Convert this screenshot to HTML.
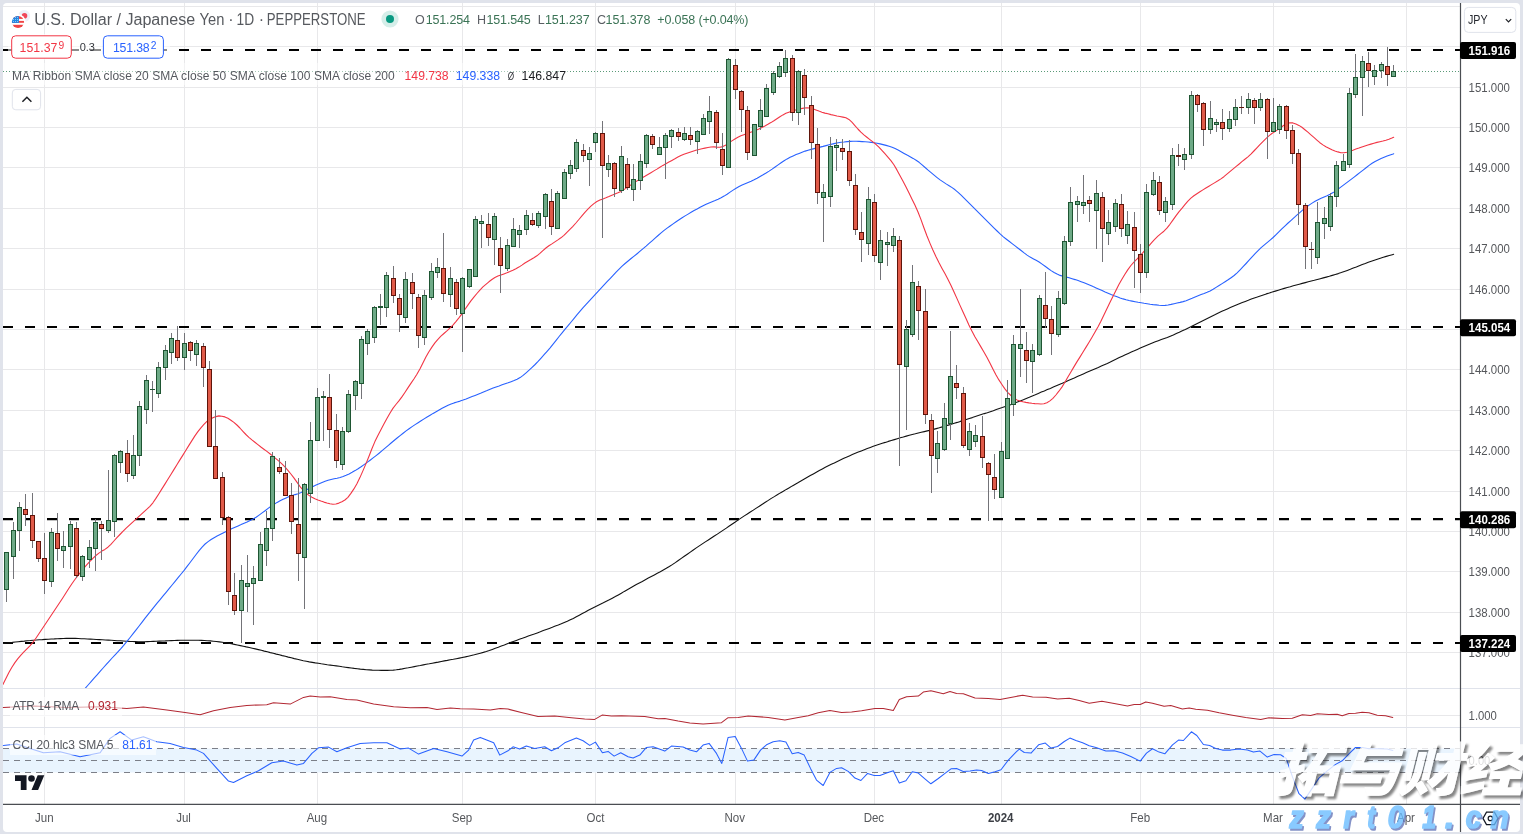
<!DOCTYPE html>
<html><head><meta charset="utf-8"><title>USDJPY chart</title>
<style>
html,body{margin:0;padding:0;background:#e0e3eb;overflow:hidden}
svg{display:block}
text{font-family:"Liberation Sans","Noto Sans CJK SC",sans-serif}
</style></head><body>
<svg width="1523" height="834" viewBox="0 0 1523 834">
<rect width="1523" height="834" fill="#e0e3eb"/>
<rect x="3" y="3" width="1517" height="829" rx="4" ry="4" fill="#fff"/>
<path d="M3,6.5H1460.5M3,46.5H1460.5M3,87.5H1460.5M3,127.5H1460.5M3,167.5H1460.5M3,208.5H1460.5M3,248.5H1460.5M3,289.5H1460.5M3,329.5H1460.5M3,369.5H1460.5M3,410.5H1460.5M3,450.5H1460.5M3,491.5H1460.5M3,531.5H1460.5M3,571.5H1460.5M3,612.5H1460.5M3,652.5H1460.5M3,715.5H1460.5M44.5,3V804.3M184.5,3V804.3M317.5,3V804.3M462.5,3V804.3M595.5,3V804.3M735.5,3V804.3M874.5,3V804.3M1001.5,3V804.3M1140.5,3V804.3M1273.5,3V804.3M1406.5,3V804.3" stroke="#e8e8ea" stroke-width="1" fill="none"/>
<path d="M3,688.5H1520M3,727.5H1520" stroke="#e0e3eb" stroke-width="1.2" fill="none"/>
<rect x="3" y="748.5" width="1457.5" height="24" fill="#e9f4fe"/>
<path d="M3,748.5H1460.5M3,760.5H1460.5M3,772.5H1460.5" stroke="#7c7f88" stroke-width="1" stroke-dasharray="6 5" fill="none"/>
<path d="M3,71.5H1460.5" stroke="#5a9a78" stroke-width="1" stroke-dasharray="1 2" fill="none"/>
<defs><clipPath id="mp"><rect x="3" y="3" width="1457.5" height="685"/></clipPath></defs>
<path d="M3,50H1460.5" stroke="#000" stroke-width="2.2" stroke-dasharray="10 12" fill="none"/>
<path d="M3,327H1460.5" stroke="#000" stroke-width="2.2" stroke-dasharray="10 12" fill="none"/>
<path d="M3,519.2H1460.5" stroke="#000" stroke-width="2.2" stroke-dasharray="10 12" fill="none"/>
<path d="M3,643H1460.5" stroke="#000" stroke-width="2.2" stroke-dasharray="10 12" fill="none"/>
<g clip-path="url(#mp)">
<polyline points="3.3,643.4 6.3,643.0 9.3,642.7 12.3,642.4 15.3,642.0 18.3,641.7 21.3,641.4 24.3,641.1 27.3,640.7 30.3,640.5 33.3,640.2 36.3,640.0 39.3,639.7 42.3,639.6 45.3,639.4 48.3,639.2 51.3,639.0 54.3,638.9 57.3,638.7 60.3,638.6 63.3,638.5 66.3,638.4 69.3,638.4 72.3,638.4 75.3,638.4 78.3,638.5 81.3,638.7 84.3,638.8 87.3,639.0 90.3,639.1 93.3,639.3 96.3,639.5 99.3,639.6 102.3,639.8 105.3,640.0 108.3,640.1 111.3,640.3 114.3,640.5 117.3,640.7 120.3,640.8 123.3,641.0 126.3,641.2 129.3,641.4 132.3,641.5 135.3,641.6 138.3,641.7 141.3,641.7 144.3,641.7 147.3,641.6 150.3,641.5 153.3,641.4 156.3,641.3 159.3,641.1 162.3,641.0 165.3,640.9 168.3,640.7 171.3,640.6 174.3,640.5 177.3,640.4 180.3,640.3 183.3,640.2 186.3,640.2 189.3,640.2 192.3,640.2 195.3,640.2 198.3,640.3 201.3,640.4 204.3,640.5 207.3,640.7 210.3,640.9 213.3,641.2 216.3,641.5 219.3,641.9 222.3,642.3 225.3,642.7 228.3,643.2 231.3,643.8 234.3,644.4 237.3,645.0 240.3,645.6 243.3,646.2 246.3,646.9 249.3,647.5 252.3,648.2 255.3,648.9 258.3,649.6 261.3,650.3 264.3,651.1 267.3,651.8 270.3,652.6 273.3,653.3 276.3,654.1 279.3,654.8 282.3,655.6 285.3,656.3 288.3,657.1 291.3,657.8 294.3,658.6 297.3,659.3 300.3,660.0 303.3,660.7 306.3,661.3 309.3,661.9 312.3,662.4 315.3,662.9 318.3,663.3 321.3,663.8 324.3,664.2 327.3,664.7 330.3,665.1 333.3,665.5 336.3,665.9 339.3,666.3 342.3,666.8 345.3,667.2 348.3,667.6 351.3,668.0 354.3,668.4 357.3,668.7 360.3,669.1 363.3,669.4 366.3,669.7 369.3,669.9 372.3,670.1 375.3,670.2 378.3,670.3 381.3,670.4 384.3,670.4 387.3,670.4 390.3,670.3 393.3,670.1 396.3,669.8 399.3,669.4 402.3,668.9 405.3,668.3 408.3,667.8 411.3,667.2 414.3,666.6 417.3,666.0 420.3,665.5 423.3,664.9 426.3,664.3 429.3,663.8 432.3,663.2 435.3,662.6 438.3,662.1 441.3,661.5 444.3,660.9 447.3,660.4 450.3,659.8 453.3,659.3 456.3,658.7 459.3,658.1 462.3,657.5 465.3,656.9 468.3,656.2 471.3,655.5 474.3,654.8 477.3,654.0 480.3,653.2 483.3,652.4 486.3,651.5 489.3,650.5 492.3,649.4 495.3,648.3 498.3,647.2 501.3,646.0 504.3,644.9 507.3,643.7 510.3,642.6 513.3,641.5 516.3,640.4 519.3,639.3 522.3,638.3 525.3,637.2 528.3,636.1 531.3,635.0 534.3,634.0 537.3,632.9 540.3,631.8 543.3,630.6 546.3,629.5 549.3,628.4 552.3,627.3 555.3,626.1 558.3,625.0 561.3,623.8 564.3,622.5 567.3,621.2 570.3,619.8 573.3,618.4 576.3,616.8 579.3,615.2 582.3,613.6 585.3,612.0 588.3,610.3 591.3,608.7 594.3,607.2 597.3,605.7 600.3,604.2 603.3,602.8 606.3,601.3 609.3,599.8 612.3,598.2 615.3,596.6 618.3,594.9 621.3,593.2 624.3,591.4 627.3,589.7 630.3,588.0 633.3,586.3 636.3,584.6 639.3,583.0 642.3,581.4 645.3,579.7 648.3,578.1 651.3,576.5 654.3,574.9 657.3,573.3 660.3,571.7 663.3,570.0 666.3,568.3 669.3,566.5 672.3,564.6 675.3,562.6 678.3,560.5 681.3,558.4 684.3,556.3 687.3,554.2 690.3,552.1 693.3,550.0 696.3,547.9 699.3,545.9 702.3,543.9 705.3,541.9 708.3,540.0 711.3,538.0 714.3,536.0 717.3,534.1 720.3,532.1 723.3,530.1 726.3,528.1 729.3,526.0 732.3,524.0 735.3,522.0 738.3,519.9 741.3,517.9 744.3,515.9 747.3,514.0 750.3,512.0 753.3,510.1 756.3,508.1 759.3,506.2 762.3,504.2 765.3,502.3 768.3,500.4 771.3,498.4 774.3,496.6 777.3,494.7 780.3,492.9 783.3,491.2 786.3,489.4 789.3,487.7 792.3,485.9 795.3,484.2 798.3,482.5 801.3,480.7 804.3,479.0 807.3,477.3 810.3,475.6 813.3,473.9 816.3,472.2 819.3,470.5 822.3,468.9 825.3,467.3 828.3,465.8 831.3,464.3 834.3,462.9 837.3,461.4 840.3,460.0 843.3,458.6 846.3,457.3 849.3,455.9 852.3,454.6 855.3,453.3 858.3,452.1 861.3,450.9 864.3,449.7 867.3,448.5 870.3,447.4 873.3,446.3 876.3,445.3 879.3,444.3 882.3,443.3 885.3,442.4 888.3,441.4 891.3,440.5 894.3,439.6 897.3,438.7 900.3,437.8 903.3,437.0 906.3,436.1 909.3,435.3 912.3,434.5 915.3,433.8 918.3,433.0 921.3,432.3 924.3,431.6 927.3,430.9 930.3,430.2 933.3,429.4 936.3,428.6 939.3,427.8 942.3,426.9 945.3,426.0 948.3,425.1 951.3,424.2 954.3,423.3 957.3,422.4 960.3,421.4 963.3,420.5 966.3,419.5 969.3,418.5 972.3,417.6 975.3,416.6 978.3,415.6 981.3,414.6 984.3,413.6 987.3,412.7 990.3,411.7 993.3,410.7 996.3,409.6 999.3,408.6 1002.3,407.6 1005.3,406.5 1008.3,405.5 1011.3,404.4 1014.3,403.2 1017.3,402.1 1020.3,400.9 1023.3,399.7 1026.3,398.4 1029.3,397.2 1032.3,395.9 1035.3,394.7 1038.3,393.4 1041.3,392.1 1044.3,390.9 1047.3,389.6 1050.3,388.4 1053.3,387.1 1056.3,385.8 1059.3,384.5 1062.3,383.3 1065.3,381.9 1068.3,380.6 1071.3,379.3 1074.3,378.0 1077.3,376.6 1080.3,375.3 1083.3,373.9 1086.3,372.6 1089.3,371.3 1092.3,370.0 1095.3,368.7 1098.3,367.4 1101.3,366.0 1104.3,364.7 1107.3,363.4 1110.3,362.0 1113.3,360.5 1116.3,359.1 1119.3,357.6 1122.3,356.2 1125.3,354.8 1128.3,353.4 1131.3,352.1 1134.3,350.8 1137.3,349.4 1140.3,348.1 1143.3,346.8 1146.3,345.5 1149.3,344.2 1152.3,343.0 1155.3,341.8 1158.3,340.7 1161.3,339.6 1164.3,338.5 1167.3,337.4 1170.3,336.2 1173.3,335.0 1176.3,333.6 1179.3,332.3 1182.3,330.8 1185.3,329.4 1188.3,327.9 1191.3,326.4 1194.3,324.9 1197.3,323.4 1200.3,321.9 1203.3,320.4 1206.3,318.9 1209.3,317.4 1212.3,315.9 1215.3,314.5 1218.3,313.0 1221.3,311.6 1224.3,310.3 1227.3,308.9 1230.3,307.6 1233.3,306.3 1236.3,305.0 1239.3,303.8 1242.3,302.6 1245.3,301.4 1248.3,300.3 1251.3,299.1 1254.3,298.0 1257.3,297.0 1260.3,295.9 1263.3,294.9 1266.3,293.9 1269.3,293.0 1272.3,292.0 1275.3,291.1 1278.3,290.2 1281.3,289.3 1284.3,288.4 1287.3,287.5 1290.3,286.7 1293.3,285.8 1296.3,285.0 1299.3,284.2 1302.3,283.4 1305.3,282.6 1308.3,281.8 1311.3,281.0 1314.3,280.3 1317.3,279.5 1320.3,278.7 1323.3,277.9 1326.3,277.1 1329.3,276.3 1332.3,275.4 1335.3,274.5 1338.3,273.6 1341.3,272.6 1344.3,271.5 1347.3,270.4 1350.3,269.3 1353.3,268.1 1356.3,267.0 1359.3,265.8 1362.3,264.6 1365.3,263.5 1368.3,262.3 1371.3,261.2 1374.3,260.2 1377.3,259.2 1380.3,258.2 1383.3,257.3 1386.3,256.4 1389.3,255.5 1392.3,254.7 1393.7,254.3" fill="none" stroke="#111" stroke-width="1.1" stroke-linejoin="round" stroke-linecap="round" />
<polyline points="85.1,688.4 88.1,685.0 91.1,681.6 94.1,678.2 97.1,674.8 100.1,671.4 103.1,668.0 106.1,664.6 109.1,661.3 112.1,658.0 115.1,654.8 118.1,651.6 121.1,648.3 124.1,644.8 127.1,641.2 130.1,637.5 133.1,633.7 136.1,629.9 139.1,626.0 142.1,622.1 145.1,618.2 148.1,614.4 151.1,610.6 154.1,606.9 157.1,603.2 160.1,599.6 163.1,595.9 166.1,592.3 169.1,588.7 172.1,585.0 175.1,581.4 178.1,577.7 181.1,574.0 184.1,570.3 187.1,566.4 190.1,562.5 193.1,558.5 196.1,554.5 199.1,550.6 202.1,547.1 205.1,544.0 208.1,541.6 211.1,539.5 214.1,537.7 217.1,536.1 220.1,534.6 223.1,533.1 226.1,531.6 229.1,530.1 232.1,528.6 235.1,527.2 238.1,525.9 241.1,524.6 244.1,523.2 247.1,521.9 250.1,520.5 253.1,519.0 256.1,517.2 259.1,515.1 262.1,512.9 265.1,510.7 268.1,508.4 271.1,506.2 274.1,504.2 277.1,502.4 280.1,500.8 283.1,499.3 286.1,497.9 289.1,496.6 292.1,495.6 295.1,494.6 298.1,493.7 301.1,492.5 304.1,491.1 307.1,489.6 310.1,488.0 313.1,486.5 316.1,485.1 319.1,483.8 322.1,482.5 325.1,481.3 328.1,480.3 331.1,479.5 334.1,478.8 337.1,478.2 340.1,477.5 343.1,476.5 346.1,475.3 349.1,473.9 352.1,472.3 355.1,470.6 358.1,468.7 361.1,466.7 364.1,464.6 367.1,462.4 370.1,460.2 373.1,457.9 376.1,455.6 379.1,453.2 382.1,450.7 385.1,448.2 388.1,445.6 391.1,443.0 394.1,440.5 397.1,438.0 400.1,435.6 403.1,433.3 406.1,430.9 409.1,428.7 412.1,426.6 415.1,424.6 418.1,422.7 421.1,420.8 424.1,418.9 427.1,417.0 430.1,415.2 433.1,413.4 436.1,411.7 439.1,410.0 442.1,408.3 445.1,406.7 448.1,405.2 451.1,403.9 454.1,402.9 457.1,402.0 460.1,401.1 463.1,400.1 466.1,399.0 469.1,397.8 472.1,396.6 475.1,395.4 478.1,394.2 481.1,393.0 484.1,391.7 487.1,390.5 490.1,389.2 493.1,388.0 496.1,386.9 499.1,385.9 502.1,384.8 505.1,383.8 508.1,382.8 511.1,381.7 514.1,380.6 517.1,379.3 520.1,377.6 523.1,375.4 526.1,372.8 529.1,370.2 532.1,367.4 535.1,364.5 538.1,361.4 541.1,358.1 544.1,354.7 547.1,351.3 550.1,347.8 553.1,344.1 556.1,340.3 559.1,336.5 562.1,332.8 565.1,329.2 568.1,325.6 571.1,322.0 574.1,318.4 577.1,314.7 580.1,311.2 583.1,307.7 586.1,304.4 589.1,301.1 592.1,297.9 595.1,294.6 598.1,291.4 601.1,288.2 604.1,284.9 607.1,281.7 610.1,278.6 613.1,275.4 616.1,272.2 619.1,269.1 622.1,266.2 625.1,263.5 628.1,261.0 631.1,258.5 634.1,256.1 637.1,253.7 640.1,251.2 643.1,248.6 646.1,246.1 649.1,243.4 652.1,240.8 655.1,238.2 658.1,235.5 661.1,232.9 664.1,230.4 667.1,228.1 670.1,226.0 673.1,223.9 676.1,221.8 679.1,219.8 682.1,217.8 685.1,215.9 688.1,214.1 691.1,212.3 694.1,210.6 697.1,209.0 700.1,207.3 703.1,205.7 706.1,204.3 709.1,202.9 712.1,201.7 715.1,200.5 718.1,199.2 721.1,197.8 724.1,196.1 727.1,194.2 730.1,192.1 733.1,190.1 736.1,188.2 739.1,186.6 742.1,185.1 745.1,183.8 748.1,182.5 751.1,181.2 754.1,179.8 757.1,178.2 760.1,176.5 763.1,174.8 766.1,173.0 769.1,171.1 772.1,169.1 775.1,167.0 778.1,164.9 781.1,162.8 784.1,160.7 787.1,158.9 790.1,157.3 793.1,155.9 796.1,154.6 799.1,153.4 802.1,152.2 805.1,151.1 808.1,150.2 811.1,149.4 814.1,148.6 817.1,147.9 820.1,147.1 823.1,146.4 826.1,145.6 829.1,144.8 832.1,144.1 835.1,143.4 838.1,142.8 841.1,142.3 844.1,142.0 847.1,141.6 850.1,141.4 853.1,141.3 856.1,141.3 859.1,141.4 862.1,141.6 865.1,141.8 868.1,142.0 871.1,142.4 874.1,142.8 877.1,143.3 880.1,143.9 883.1,144.6 886.1,145.4 889.1,146.3 892.1,147.3 895.1,148.6 898.1,150.1 901.1,151.7 904.1,153.4 907.1,155.1 910.1,156.7 913.1,158.4 916.1,160.2 919.1,162.3 922.1,164.8 925.1,167.5 928.1,170.2 931.1,172.7 934.1,175.2 937.1,177.6 940.1,179.9 943.1,181.9 946.1,183.9 949.1,185.7 952.1,187.6 955.1,189.8 958.1,192.3 961.1,195.1 964.1,198.1 967.1,201.1 970.1,204.1 973.1,207.1 976.1,210.1 979.1,213.1 982.1,216.1 985.1,219.1 988.1,222.1 991.1,225.1 994.1,228.1 997.1,231.0 1000.1,233.9 1003.1,236.6 1006.1,239.0 1009.1,241.3 1012.1,243.6 1015.1,245.9 1018.1,248.2 1021.1,250.5 1024.1,252.9 1027.1,255.1 1030.1,257.1 1033.1,258.7 1036.1,260.3 1039.1,262.0 1042.1,264.1 1045.1,266.3 1048.1,268.5 1051.1,270.6 1054.1,272.5 1057.1,274.1 1060.1,275.4 1063.1,276.3 1066.1,277.0 1069.1,277.8 1072.1,278.7 1075.1,279.6 1078.1,280.6 1081.1,281.7 1084.1,282.8 1087.1,284.0 1090.1,285.2 1093.1,286.6 1096.1,287.9 1099.1,289.2 1102.1,290.5 1105.1,291.9 1108.1,293.2 1111.1,294.5 1114.1,295.7 1117.1,296.8 1120.1,297.9 1123.1,298.9 1126.1,299.8 1129.1,300.5 1132.1,301.1 1135.1,301.7 1138.1,302.3 1141.1,302.8 1144.1,303.3 1147.1,303.7 1150.1,304.2 1153.1,304.6 1156.1,304.9 1159.1,305.3 1162.1,305.5 1165.1,305.4 1168.1,305.0 1171.1,304.4 1174.1,303.7 1177.1,303.0 1180.1,302.4 1183.1,301.6 1186.1,300.7 1189.1,299.5 1192.1,298.3 1195.1,297.0 1198.1,295.8 1201.1,294.6 1204.1,293.5 1207.1,292.3 1210.1,290.9 1213.1,289.3 1216.1,287.4 1219.1,285.5 1222.1,283.6 1225.1,281.7 1228.1,279.8 1231.1,277.7 1234.1,275.5 1237.1,272.8 1240.1,269.8 1243.1,266.7 1246.1,263.5 1249.1,260.2 1252.1,256.9 1255.1,253.7 1258.1,250.6 1261.1,247.7 1264.1,245.1 1267.1,242.6 1270.1,240.1 1273.1,237.5 1276.1,234.6 1279.1,231.7 1282.1,228.7 1285.1,225.8 1288.1,223.0 1291.1,220.3 1294.1,217.6 1297.1,214.9 1300.1,212.3 1303.1,209.7 1306.1,207.3 1309.1,205.1 1312.1,203.1 1315.1,201.3 1318.1,199.7 1321.1,198.3 1324.1,197.0 1327.1,195.7 1330.1,194.3 1333.1,192.6 1336.1,190.6 1339.1,188.4 1342.1,186.1 1345.1,183.9 1348.1,181.6 1351.1,179.4 1354.1,177.1 1357.1,174.8 1360.1,172.4 1363.1,170.1 1366.1,167.7 1369.1,165.4 1372.1,163.3 1375.1,161.5 1378.1,160.0 1381.1,158.6 1384.1,157.3 1387.1,156.1 1390.1,155.0 1393.1,154.0 1393.7,153.7" fill="none" stroke="#2962ff" stroke-width="1.1" stroke-linejoin="round" stroke-linecap="round" />
<polyline points="2.9,684.4 5.9,678.4 8.9,672.6 11.9,667.2 14.9,662.6 17.9,658.6 20.9,655.1 23.9,651.9 26.9,648.9 29.9,645.8 32.9,642.4 35.9,638.2 38.9,633.8 41.9,629.3 44.9,624.8 47.9,620.3 50.9,615.8 53.9,611.3 56.9,606.8 59.9,602.3 62.9,597.7 65.9,593.0 68.9,588.2 71.9,583.7 74.9,579.5 77.9,575.6 80.9,571.8 83.9,568.2 86.9,564.7 89.9,561.3 92.9,558.3 95.9,555.5 98.9,553.1 101.9,551.1 104.9,549.4 107.9,547.2 110.9,544.3 113.9,541.0 116.9,537.7 119.9,534.5 122.9,531.3 125.9,528.4 128.9,525.6 131.9,522.8 134.9,520.1 137.9,517.4 140.9,514.7 143.9,511.9 146.9,509.2 149.9,506.3 152.9,502.8 155.9,498.4 158.9,493.7 161.9,488.9 164.9,484.1 167.9,479.3 170.9,474.5 173.9,469.6 176.9,464.8 179.9,459.9 182.9,455.1 185.9,450.2 188.9,445.4 191.9,440.6 194.9,435.9 197.9,431.6 200.9,427.8 203.9,424.4 206.9,421.4 209.9,419.3 212.9,417.8 215.9,416.6 218.9,415.9 221.9,416.2 224.9,416.9 227.9,418.3 230.9,420.2 233.9,422.4 236.9,425.0 239.9,428.0 242.9,431.3 245.9,434.5 248.9,437.3 251.9,439.9 254.9,442.3 257.9,444.6 260.9,447.0 263.9,449.2 266.9,451.4 269.9,453.7 272.9,456.1 275.9,458.6 278.9,461.1 281.9,463.8 284.9,466.8 287.9,470.3 290.9,474.0 293.9,477.9 296.9,482.1 299.9,486.4 302.9,490.0 305.9,493.0 308.9,495.4 311.9,497.3 314.9,498.8 317.9,500.0 320.9,501.1 323.9,502.1 326.9,503.0 329.9,503.8 332.9,504.3 335.9,504.0 338.9,503.1 341.9,501.7 344.9,500.0 347.9,497.3 350.9,493.4 353.9,488.9 356.9,483.7 359.9,477.6 362.9,470.9 365.9,463.9 368.9,456.5 371.9,448.8 374.9,441.6 377.9,435.4 380.9,429.7 383.9,424.1 386.9,418.5 389.9,413.2 392.9,408.4 395.9,404.5 398.9,400.9 401.9,396.9 404.9,392.5 407.9,387.9 410.9,383.4 413.9,379.0 416.9,374.3 419.9,369.0 422.9,363.0 425.9,357.0 428.9,351.7 431.9,347.1 434.9,342.9 437.9,339.3 440.9,336.2 443.9,333.5 446.9,330.9 449.9,328.1 452.9,325.1 455.9,321.6 458.9,317.8 461.9,313.8 464.9,309.5 467.9,305.1 470.9,300.9 473.9,297.2 476.9,293.5 479.9,290.1 482.9,286.9 485.9,284.3 488.9,281.8 491.9,279.5 494.9,277.5 497.9,276.1 500.9,275.0 503.9,273.9 506.9,272.8 509.9,271.6 512.9,270.3 515.9,268.8 518.9,267.1 521.9,265.1 524.9,263.0 527.9,261.2 530.9,259.5 533.9,257.7 536.9,255.8 539.9,253.3 542.9,250.6 545.9,248.0 548.9,245.8 551.9,243.9 554.9,241.9 557.9,239.9 560.9,237.8 563.9,235.3 566.9,232.4 569.9,229.4 572.9,226.3 575.9,223.0 578.9,219.5 581.9,215.9 584.9,212.4 587.9,209.2 590.9,206.2 593.9,203.6 596.9,201.5 599.9,200.1 602.9,198.9 605.9,197.8 608.9,196.6 611.9,195.3 614.9,194.1 617.9,192.8 620.9,191.4 623.9,189.6 626.9,187.6 629.9,185.6 632.9,183.5 635.9,181.6 638.9,179.8 641.9,178.0 644.9,176.3 647.9,174.5 650.9,172.7 653.9,170.9 656.9,169.1 659.9,167.2 662.9,165.4 665.9,163.7 668.9,162.0 671.9,160.4 674.9,158.8 677.9,157.1 680.9,155.6 683.9,154.3 686.9,153.2 689.9,152.2 692.9,151.2 695.9,150.3 698.9,149.5 701.9,148.8 704.9,148.1 707.9,147.5 710.9,147.0 713.9,146.9 716.9,147.1 719.9,147.2 722.9,146.6 725.9,145.0 728.9,142.9 731.9,140.9 734.9,139.0 737.9,137.3 740.9,135.8 743.9,134.7 746.9,133.6 749.9,132.6 752.9,131.6 755.9,130.3 758.9,128.9 761.9,127.4 764.9,125.9 767.9,124.3 770.9,122.6 773.9,120.7 776.9,118.7 779.9,116.7 782.9,114.9 785.9,113.3 788.9,112.2 791.9,111.1 794.9,110.2 797.9,109.3 800.9,108.6 803.9,108.1 806.9,107.8 809.9,108.0 812.9,108.8 815.9,109.9 818.9,111.1 821.9,112.2 824.9,113.1 827.9,113.8 830.9,114.6 833.9,115.3 836.9,116.0 839.9,116.5 842.9,117.1 845.9,117.8 848.9,119.4 851.9,122.2 854.9,125.6 857.9,129.0 860.9,132.2 863.9,134.9 866.9,137.3 869.9,139.6 872.9,141.9 875.9,144.3 878.9,147.2 881.9,150.4 884.9,153.7 887.9,157.1 890.9,160.6 893.9,164.8 896.9,169.9 899.9,175.4 902.9,181.0 905.9,186.8 908.9,192.8 911.9,198.9 914.9,205.1 917.9,211.7 920.9,219.4 923.9,227.7 926.9,235.8 929.9,243.1 932.9,250.0 935.9,256.5 938.9,262.6 941.9,268.2 944.9,273.6 947.9,279.2 950.9,285.2 953.9,291.7 956.9,298.4 959.9,305.1 962.9,311.7 965.9,318.3 968.9,324.9 971.9,331.1 974.9,336.7 977.9,341.8 980.9,346.9 983.9,352.0 986.9,357.3 989.9,363.0 992.9,368.9 995.9,374.7 998.9,379.9 1001.9,384.5 1004.9,388.9 1007.9,392.6 1010.9,395.5 1013.9,397.9 1016.9,399.9 1019.9,401.1 1022.9,401.8 1025.9,402.4 1028.9,402.9 1031.9,403.3 1034.9,403.6 1037.9,403.8 1040.9,404.0 1043.9,403.8 1046.9,402.7 1049.9,400.9 1052.9,398.3 1055.9,395.0 1058.9,391.2 1061.9,387.1 1064.9,382.3 1067.9,377.1 1070.9,371.9 1073.9,366.9 1076.9,361.9 1079.9,357.1 1082.9,352.3 1085.9,347.4 1088.9,342.5 1091.9,337.5 1094.9,332.3 1097.9,327.0 1100.9,321.3 1103.9,315.1 1106.9,308.8 1109.9,302.5 1112.9,296.4 1115.9,290.4 1118.9,284.6 1121.9,279.3 1124.9,274.3 1127.9,269.6 1130.9,265.5 1133.9,262.1 1136.9,259.1 1139.9,255.9 1142.9,252.6 1145.9,249.2 1148.9,245.8 1151.9,242.4 1154.9,239.1 1157.9,236.1 1160.9,233.6 1163.9,231.2 1166.9,228.2 1169.9,224.3 1172.9,220.1 1175.9,215.9 1178.9,211.9 1181.9,208.3 1184.9,204.7 1187.9,201.2 1190.9,198.1 1193.9,195.7 1196.9,193.7 1199.9,191.8 1202.9,189.9 1205.9,188.0 1208.9,186.2 1211.9,184.4 1214.9,182.6 1217.9,180.8 1220.9,178.9 1223.9,176.7 1226.9,174.2 1229.9,171.6 1232.9,169.1 1235.9,166.6 1238.9,164.2 1241.9,161.7 1244.9,159.3 1247.9,156.8 1250.9,154.1 1253.9,151.0 1256.9,147.8 1259.9,144.7 1262.9,141.6 1265.9,138.6 1268.9,135.9 1271.9,133.5 1274.9,131.6 1277.9,129.6 1280.9,127.5 1283.9,125.3 1286.9,123.6 1289.9,122.7 1292.9,122.9 1295.9,123.9 1298.9,125.4 1301.9,127.3 1304.9,129.7 1307.9,132.2 1310.9,134.8 1313.9,137.4 1316.9,140.1 1319.9,142.7 1322.9,144.9 1325.9,146.7 1328.9,148.2 1331.9,149.7 1334.9,150.9 1337.9,151.9 1340.9,152.7 1343.9,152.8 1346.9,152.2 1349.9,151.2 1352.9,150.2 1355.9,149.1 1358.9,148.1 1361.9,147.0 1364.9,146.0 1367.9,145.0 1370.9,144.1 1373.9,143.2 1376.9,142.4 1379.9,141.7 1382.9,141.0 1385.9,140.2 1388.9,139.3 1391.9,138.1 1393.7,137.3" fill="none" stroke="#f23645" stroke-width="1.1" stroke-linejoin="round" stroke-linecap="round" />
<path d="M6.5,552V602M13.5,522V579M19.5,502V551M25.5,494V526M32.5,493V548M38.5,541V562M44.5,533V594M51.5,528V587M57.5,513V561M63.5,531V568M70.5,521V569M76.5,522V578M82.5,555V581M89.5,540V568M95.5,519V571M101.5,521V560M108.5,470V533M114.5,454V537M120.5,450V473M127.5,440V482M133.5,435V479M139.5,401V466M146.5,375V424M152.5,381V412M158.5,362V398M165.5,345V380M171.5,333V364M177.5,326V361M184.5,333V370M190.5,341V361M196.5,340V366M203.5,343V387M209.5,361V446M215.5,410V478M222.5,472V525M228.5,516V605M234.5,573V615M241.5,565V643M247.5,555V612M253.5,566V625M260.5,532V580M266.5,511V566M272.5,452V541M279.5,458V474M285.5,461V495M291.5,483V534M298.5,478V581M304.5,483V609M310.5,422V503M317.5,388V441M323.5,391V441M329.5,374V448M336.5,414V468M342.5,427V470M348.5,390V433M355.5,380V410M361.5,336V399M367.5,329V355M374.5,306V343M380.5,294V325M386.5,272V317M393.5,266V303M399.5,294V332M405.5,272V323M412.5,273V309M418.5,294V348M424.5,290V345M431.5,263V300M437.5,258V278M443.5,233V302M450.5,267V307M456.5,279V315M462.5,277V352M469.5,269V288M475.5,216V276M481.5,215V248M488.5,213V246M494.5,213V265M500.5,237V293M507.5,239V271M513.5,218V247M519.5,225V248M526.5,210V235M532.5,213V226M538.5,211V228M545.5,193V229M551.5,189V235M557.5,191V228M564.5,169V198M570.5,160V179M576.5,139V172M583.5,144V162M589.5,147V186M595.5,132V152M602.5,121V238M608.5,155V177M614.5,162V197M621.5,146V193M627.5,158V190M633.5,164V201M640.5,154V190M646.5,134V168M652.5,134V149M659.5,137V155M665.5,133V179M671.5,129V148M678.5,128V141M684.5,127V141M690.5,127V145M697.5,130V154M703.5,114V134M709.5,96V134M716.5,110V149M722.5,133V175M728.5,58V167M735.5,59V99M741.5,90V132M747.5,106V160M754.5,124V156M760.5,99V130M766.5,84V116M773.5,71V95M779.5,62V78M785.5,50V77M792.5,55V121M798.5,70V125M804.5,69V115M811.5,96V159M817.5,128V204M823.5,184V242M830.5,137V207M836.5,139V171M842.5,139V160M849.5,140V186M855.5,174V235M861.5,212V262M868.5,187V255M874.5,194V262M880.5,230V280M887.5,232V266M893.5,228V252M899.5,236V466M906.5,320V430M912.5,265V337M918.5,281V340M925.5,289V424M931.5,414V493M937.5,431V473M944.5,403V451M950.5,331V440M956.5,365V399M963.5,387V448M969.5,423V456M975.5,425V447M982.5,416V468M988.5,462V521M994.5,454V499M1001.5,442V498M1007.5,380V459M1013.5,335V416M1020.5,289V377M1026.5,332V383M1032.5,344V393M1039.5,295V356M1045.5,272V328M1051.5,306V355M1058.5,291V337M1064.5,236V305M1070.5,187V246M1077.5,196V222M1083.5,175V214M1089.5,196V222M1096.5,180V249M1102.5,192V262M1108.5,210V245M1115.5,199V232M1121.5,194V237M1127.5,211V244M1134.5,212V288M1140.5,244V293M1146.5,184V278M1153.5,172V196M1159.5,176V215M1165.5,197V222M1172.5,148V210M1178.5,144V166M1184.5,148V170M1191.5,91V159M1197.5,94V112M1203.5,102V146M1210.5,101V134M1216.5,119V132M1222.5,109V140M1229.5,111V132M1235.5,99V126M1241.5,96V114M1248.5,93V114M1254.5,98V124M1260.5,93V111M1267.5,98V159M1273.5,98V132M1279.5,104V134M1286.5,105V139M1292.5,125V164M1298.5,149V225M1305.5,203V269M1311.5,242V269M1317.5,202V264M1324.5,207V239M1330.5,193V231M1336.5,161V207M1343.5,154V170M1349.5,88V168M1355.5,54V98M1362.5,56V116M1368.5,52V87M1374.5,65V85M1381.5,62V78M1387.5,47V86M1393.5,65V77" stroke="#737378" stroke-width="1" fill="none"/>
<g fill="#6eaa87" stroke="#1e5532" stroke-width="1"><rect x="4.5" y="552.5" width="4" height="37.0"/><rect x="11.5" y="530.5" width="4" height="26.0"/><rect x="17.5" y="507.5" width="4" height="23.0"/><rect x="49.5" y="532.5" width="4" height="49.0"/><rect x="61.5" y="546.5" width="4" height="4.0"/><rect x="68.5" y="524.5" width="4" height="22.0"/><rect x="80.5" y="556.5" width="4" height="20.0"/><rect x="87.5" y="547.5" width="4" height="12.0"/><rect x="93.5" y="522.5" width="4" height="26.0"/><rect x="106.5" y="520.5" width="4" height="10.0"/><rect x="112.5" y="455.5" width="4" height="66.0"/><rect x="118.5" y="451.5" width="4" height="11.0"/><rect x="131.5" y="455.5" width="4" height="20.0"/><rect x="137.5" y="406.5" width="4" height="49.0"/><rect x="144.5" y="380.5" width="4" height="29.0"/><path d="M150.0,389.5H155.0" fill="none"/><rect x="156.5" y="367.5" width="4" height="26.0"/><rect x="163.5" y="350.5" width="4" height="17.0"/><rect x="169.5" y="338.5" width="4" height="14.0"/><rect x="182.5" y="343.5" width="4" height="14.0"/><rect x="194.5" y="343.5" width="4" height="11.0"/><rect x="239.5" y="580.5" width="4" height="30.0"/><rect x="245.5" y="583.5" width="4" height="3.0"/><rect x="251.5" y="578.5" width="4" height="5.0"/><rect x="258.5" y="544.5" width="4" height="36.0"/><rect x="264.5" y="528.5" width="4" height="22.0"/><rect x="270.5" y="456.5" width="4" height="72.0"/><rect x="302.5" y="484.5" width="4" height="73.0"/><rect x="308.5" y="440.5" width="4" height="53.0"/><rect x="315.5" y="397.5" width="4" height="43.0"/><rect x="321.5" y="396.5" width="4" height="1.0"/><rect x="340.5" y="431.5" width="4" height="33.0"/><rect x="346.5" y="394.5" width="4" height="37.0"/><rect x="353.5" y="381.5" width="4" height="14.0"/><rect x="359.5" y="339.5" width="4" height="44.0"/><rect x="365.5" y="331.5" width="4" height="12.0"/><rect x="372.5" y="307.5" width="4" height="30.0"/><rect x="378.5" y="306.5" width="4" height="1.0"/><rect x="384.5" y="275.5" width="4" height="32.0"/><rect x="403.5" y="279.5" width="4" height="38.0"/><rect x="422.5" y="295.5" width="4" height="42.0"/><rect x="429.5" y="271.5" width="4" height="26.0"/><rect x="435.5" y="267.5" width="4" height="5.0"/><rect x="448.5" y="278.5" width="4" height="16.0"/><rect x="460.5" y="278.5" width="4" height="35.0"/><rect x="467.5" y="269.5" width="4" height="17.0"/><rect x="473.5" y="219.5" width="4" height="57.0"/><rect x="479.5" y="221.5" width="4" height="2.0"/><rect x="492.5" y="216.5" width="4" height="23.0"/><rect x="505.5" y="245.5" width="4" height="23.0"/><rect x="511.5" y="229.5" width="4" height="17.0"/><rect x="517.5" y="230.5" width="4" height="4.0"/><rect x="524.5" y="215.5" width="4" height="14.0"/><rect x="536.5" y="213.5" width="4" height="12.0"/><rect x="543.5" y="194.5" width="4" height="22.0"/><rect x="555.5" y="193.5" width="4" height="35.0"/><rect x="562.5" y="172.5" width="4" height="26.0"/><rect x="568.5" y="165.5" width="4" height="8.0"/><rect x="574.5" y="142.5" width="4" height="26.0"/><rect x="587.5" y="153.5" width="4" height="6.0"/><rect x="593.5" y="133.5" width="4" height="9.0"/><rect x="606.5" y="163.5" width="4" height="6.0"/><rect x="619.5" y="156.5" width="4" height="34.0"/><rect x="631.5" y="179.5" width="4" height="10.0"/><rect x="638.5" y="161.5" width="4" height="19.0"/><rect x="644.5" y="135.5" width="4" height="28.0"/><rect x="657.5" y="147.5" width="4" height="7.0"/><rect x="663.5" y="135.5" width="4" height="12.0"/><rect x="669.5" y="130.5" width="4" height="6.0"/><rect x="682.5" y="133.5" width="4" height="6.0"/><rect x="695.5" y="131.5" width="4" height="10.0"/><rect x="701.5" y="118.5" width="4" height="16.0"/><rect x="707.5" y="111.5" width="4" height="10.0"/><rect x="726.5" y="59.5" width="4" height="108.0"/><rect x="752.5" y="124.5" width="4" height="31.0"/><rect x="758.5" y="110.5" width="4" height="16.0"/><rect x="764.5" y="88.5" width="4" height="28.0"/><rect x="771.5" y="73.5" width="4" height="19.0"/><rect x="777.5" y="66.5" width="4" height="10.0"/><rect x="783.5" y="58.5" width="4" height="14.0"/><rect x="796.5" y="71.5" width="4" height="41.0"/><rect x="821.5" y="192.5" width="4" height="5.0"/><rect x="828.5" y="146.5" width="4" height="50.0"/><rect x="834.5" y="145.5" width="4" height="2.0"/><rect x="866.5" y="199.5" width="4" height="44.0"/><rect x="878.5" y="240.5" width="4" height="22.0"/><rect x="885.5" y="242.5" width="4" height="2.0"/><rect x="891.5" y="236.5" width="4" height="9.0"/><rect x="904.5" y="329.5" width="4" height="37.0"/><rect x="910.5" y="282.5" width="4" height="52.0"/><rect x="935.5" y="443.5" width="4" height="15.0"/><rect x="942.5" y="418.5" width="4" height="31.0"/><rect x="948.5" y="376.5" width="4" height="47.0"/><rect x="967.5" y="431.5" width="4" height="18.0"/><rect x="973.5" y="435.5" width="4" height="6.0"/><rect x="999.5" y="451.5" width="4" height="46.0"/><rect x="1005.5" y="398.5" width="4" height="60.0"/><rect x="1011.5" y="344.5" width="4" height="60.0"/><rect x="1018.5" y="344.5" width="4" height="4.0"/><rect x="1030.5" y="350.5" width="4" height="11.0"/><rect x="1037.5" y="298.5" width="4" height="56.0"/><rect x="1056.5" y="298.5" width="4" height="36.0"/><rect x="1062.5" y="241.5" width="4" height="62.0"/><rect x="1068.5" y="202.5" width="4" height="39.0"/><rect x="1075.5" y="201.5" width="4" height="3.0"/><rect x="1081.5" y="202.5" width="4" height="3.0"/><rect x="1094.5" y="193.5" width="4" height="17.0"/><rect x="1106.5" y="222.5" width="4" height="11.0"/><rect x="1113.5" y="203.5" width="4" height="23.0"/><rect x="1125.5" y="224.5" width="4" height="11.0"/><rect x="1144.5" y="192.5" width="4" height="80.0"/><rect x="1151.5" y="180.5" width="4" height="14.0"/><rect x="1163.5" y="201.5" width="4" height="11.0"/><rect x="1170.5" y="155.5" width="4" height="49.0"/><rect x="1182.5" y="154.5" width="4" height="5.0"/><rect x="1189.5" y="95.5" width="4" height="59.0"/><rect x="1208.5" y="118.5" width="4" height="11.0"/><rect x="1214.5" y="122.5" width="4" height="2.0"/><rect x="1227.5" y="119.5" width="4" height="9.0"/><rect x="1233.5" y="107.5" width="4" height="12.0"/><rect x="1246.5" y="99.5" width="4" height="8.0"/><rect x="1258.5" y="99.5" width="4" height="8.0"/><rect x="1271.5" y="122.5" width="4" height="9.0"/><rect x="1277.5" y="106.5" width="4" height="23.0"/><rect x="1315.5" y="222.5" width="4" height="35.0"/><rect x="1322.5" y="218.5" width="4" height="5.0"/><rect x="1328.5" y="196.5" width="4" height="30.0"/><rect x="1334.5" y="165.5" width="4" height="31.0"/><rect x="1341.5" y="161.5" width="4" height="9.0"/><rect x="1347.5" y="93.5" width="4" height="71.0"/><rect x="1353.5" y="77.5" width="4" height="17.0"/><rect x="1360.5" y="61.5" width="4" height="16.0"/><rect x="1372.5" y="70.5" width="4" height="6.0"/><rect x="1379.5" y="64.5" width="4" height="6.0"/><rect x="1391.5" y="71.5" width="4" height="5.0"/></g>
<g fill="#e05a48" stroke="#5f140a" stroke-width="1"><rect x="23.5" y="509.5" width="4" height="5.0"/><rect x="30.5" y="515.5" width="4" height="25.0"/><rect x="36.5" y="541.5" width="4" height="17.0"/><rect x="42.5" y="558.5" width="4" height="22.0"/><rect x="55.5" y="533.5" width="4" height="15.0"/><rect x="74.5" y="528.5" width="4" height="47.0"/><rect x="99.5" y="524.5" width="4" height="4.0"/><rect x="125.5" y="453.5" width="4" height="20.0"/><rect x="175.5" y="340.5" width="4" height="17.0"/><rect x="188.5" y="342.5" width="4" height="8.0"/><rect x="201.5" y="346.5" width="4" height="21.0"/><rect x="207.5" y="369.5" width="4" height="77.0"/><rect x="213.5" y="446.5" width="4" height="32.0"/><rect x="220.5" y="477.5" width="4" height="40.0"/><rect x="226.5" y="517.5" width="4" height="74.0"/><rect x="232.5" y="595.5" width="4" height="15.0"/><rect x="277.5" y="467.5" width="4" height="4.0"/><rect x="283.5" y="473.5" width="4" height="22.0"/><rect x="289.5" y="495.5" width="4" height="26.0"/><rect x="296.5" y="524.5" width="4" height="29.0"/><rect x="327.5" y="397.5" width="4" height="32.0"/><rect x="334.5" y="430.5" width="4" height="30.0"/><rect x="391.5" y="278.5" width="4" height="17.0"/><rect x="397.5" y="298.5" width="4" height="16.0"/><rect x="410.5" y="282.5" width="4" height="11.0"/><rect x="416.5" y="297.5" width="4" height="38.0"/><rect x="441.5" y="268.5" width="4" height="25.0"/><rect x="454.5" y="282.5" width="4" height="26.0"/><rect x="486.5" y="224.5" width="4" height="13.0"/><rect x="498.5" y="248.5" width="4" height="17.0"/><rect x="530.5" y="220.5" width="4" height="4.0"/><rect x="549.5" y="201.5" width="4" height="25.0"/><rect x="581.5" y="150.5" width="4" height="5.0"/><rect x="600.5" y="133.5" width="4" height="32.0"/><rect x="612.5" y="163.5" width="4" height="25.0"/><rect x="625.5" y="164.5" width="4" height="23.0"/><rect x="650.5" y="136.5" width="4" height="8.0"/><rect x="676.5" y="132.5" width="4" height="4.0"/><rect x="688.5" y="135.5" width="4" height="4.0"/><rect x="714.5" y="112.5" width="4" height="30.0"/><rect x="720.5" y="149.5" width="4" height="16.0"/><rect x="733.5" y="65.5" width="4" height="24.0"/><rect x="739.5" y="91.5" width="4" height="18.0"/><rect x="745.5" y="110.5" width="4" height="42.0"/><rect x="790.5" y="58.5" width="4" height="54.0"/><rect x="802.5" y="75.5" width="4" height="22.0"/><rect x="809.5" y="105.5" width="4" height="37.0"/><rect x="815.5" y="144.5" width="4" height="48.0"/><rect x="840.5" y="148.5" width="4" height="3.0"/><rect x="847.5" y="151.5" width="4" height="29.0"/><rect x="853.5" y="185.5" width="4" height="44.0"/><rect x="859.5" y="232.5" width="4" height="7.0"/><rect x="872.5" y="202.5" width="4" height="53.0"/><rect x="897.5" y="240.5" width="4" height="124.0"/><rect x="916.5" y="286.5" width="4" height="24.0"/><rect x="923.5" y="311.5" width="4" height="103.0"/><rect x="929.5" y="420.5" width="4" height="35.0"/><rect x="954.5" y="383.5" width="4" height="4.0"/><rect x="961.5" y="393.5" width="4" height="52.0"/><rect x="980.5" y="436.5" width="4" height="21.0"/><rect x="986.5" y="463.5" width="4" height="11.0"/><rect x="992.5" y="477.5" width="4" height="12.0"/><rect x="1024.5" y="350.5" width="4" height="10.0"/><rect x="1043.5" y="305.5" width="4" height="13.0"/><rect x="1049.5" y="319.5" width="4" height="14.0"/><rect x="1087.5" y="200.5" width="4" height="3.0"/><rect x="1100.5" y="197.5" width="4" height="31.0"/><rect x="1119.5" y="204.5" width="4" height="24.0"/><rect x="1132.5" y="227.5" width="4" height="23.0"/><rect x="1138.5" y="254.5" width="4" height="18.0"/><rect x="1157.5" y="182.5" width="4" height="28.0"/><rect x="1176.5" y="155.5" width="4" height="1.0"/><rect x="1195.5" y="95.5" width="4" height="9.0"/><rect x="1201.5" y="103.5" width="4" height="26.0"/><rect x="1220.5" y="122.5" width="4" height="6.0"/><path d="M1239.0,107.5H1244.0" fill="none"/><rect x="1252.5" y="100.5" width="4" height="7.0"/><rect x="1265.5" y="99.5" width="4" height="32.0"/><rect x="1284.5" y="106.5" width="4" height="24.0"/><rect x="1290.5" y="130.5" width="4" height="23.0"/><rect x="1296.5" y="153.5" width="4" height="51.0"/><rect x="1303.5" y="205.5" width="4" height="41.0"/><path d="M1309.0,249.5H1314.0" fill="none"/><rect x="1366.5" y="63.5" width="4" height="7.0"/><rect x="1385.5" y="66.5" width="4" height="8.0"/></g>
</g>
<polyline points="3.3,707.4 33.4,706.1 66.7,707.4 100.1,706.7 126.8,708.4 143.4,707.1 166.8,710.1 186.8,712.7 200.1,714.7 213.5,710.7 230.2,707.4 246.8,705.4 266.8,704.7 273.5,702.7 290.2,704.1 303.5,697.4 310.2,696.1 320.2,697.1 330.2,696.7 346.9,699.4 356.9,700.1 373.6,704.1 393.6,706.7 410.3,707.7 427.0,707.4 437.0,709.4 450.3,708.1 460.3,708.7 473.6,709.1 490.3,710.1 500.3,708.4 508.0,709.1 521.3,712.4 538.0,716.4 554.7,716.1 571.4,717.7 584.7,719.1 594.7,719.4 602.1,715.1 611.4,716.1 621.4,715.7 644.8,716.4 658.1,718.7 664.8,718.4 678.1,721.1 689.8,723.1 703.1,724.1 721.5,722.7 728.1,717.7 738.2,717.4 748.2,716.1 768.2,717.4 784.9,720.1 798.2,717.4 808.2,715.7 818.2,712.7 829.9,710.4 841.6,712.4 851.6,712.1 861.6,710.7 874.9,708.4 883.3,708.4 893.3,710.4 899.3,699.4 906.6,696.7 918.3,696.1 923.3,692.1 930.9,690.7 943.3,693.7 950.0,691.4 956.6,693.4 963.3,693.7 975.0,698.1 988.3,698.4 1000.0,699.4 1016.0,696.4 1022.7,695.2 1032.6,696.9 1046.0,697.2 1057.6,698.9 1069.3,698.2 1079.2,700.5 1089.2,703.2 1101.9,701.2 1114.2,703.5 1127.5,705.9 1134.2,704.5 1140.2,704.5 1145.8,701.9 1152.5,703.2 1164.1,706.2 1170.8,705.5 1182.4,708.9 1189.1,707.9 1195.8,709.2 1207.4,710.2 1219.1,712.8 1232.4,715.2 1245.7,717.5 1260.7,719.5 1269.0,717.8 1282.3,718.5 1292.3,718.2 1302.3,714.8 1310.6,715.5 1317.3,713.8 1328.9,714.5 1337.2,714.2 1342.2,715.8 1348.9,713.5 1355.5,713.2 1362.2,712.2 1368.9,712.8 1377.2,715.2 1385.5,715.8 1392.8,717.5" fill="none" stroke="#b22833" stroke-width="1.05" stroke-linejoin="round" stroke-linecap="round" />
<polyline points="3.3,745.4 16.7,744.1 30.0,748.4 43.4,752.8 60.0,751.8 80.1,756.8 100.1,752.8 110.1,738.4 120.1,731.8 131.8,740.1 143.4,736.8 156.8,741.8 170.1,743.4 183.5,747.4 196.8,750.1 203.5,753.4 216.8,768.4 228.5,781.1 233.5,782.5 246.8,775.8 258.5,770.8 271.8,762.8 283.5,761.1 296.9,765.1 303.5,763.4 311.9,753.4 318.5,747.8 328.6,747.1 336.9,751.8 346.9,747.8 360.2,743.4 373.6,742.8 386.9,742.8 400.3,749.1 408.6,748.1 418.6,754.1 433.6,748.4 447.0,751.8 462.0,756.1 468.6,750.1 473.6,740.1 480.3,737.4 493.7,742.8 499.7,755.1 508.0,750.8 513.0,746.8 519.7,749.1 526.3,746.1 534.7,748.4 544.7,746.8 551.4,750.8 558.0,747.8 564.7,742.8 576.4,738.1 583.1,740.8 589.7,745.4 595.4,742.1 602.4,752.8 608.1,751.4 614.1,756.1 620.7,752.8 628.1,756.8 633.1,758.1 639.8,755.1 646.4,747.4 653.1,746.8 664.8,751.1 671.4,746.1 683.1,747.1 689.8,750.1 696.5,751.8 703.1,745.1 709.1,743.4 716.5,753.4 721.8,763.4 728.1,737.4 735.2,736.4 741.5,748.4 747.5,761.1 753.8,760.1 760.5,750.1 766.5,744.8 773.2,741.8 779.8,740.8 785.9,742.1 792.2,753.8 798.2,752.4 804.2,755.1 810.5,768.4 816.5,780.1 823.2,785.5 829.9,772.4 836.6,768.4 841.6,767.8 848.2,771.4 854.9,778.1 860.9,780.5 867.6,773.4 874.2,775.5 879.9,775.5 886.6,773.1 893.3,770.8 899.3,783.1 905.9,780.8 912.3,771.8 918.3,773.1 924.9,778.8 930.9,783.8 938.3,778.5 945.0,773.4 951.0,768.8 956.6,768.4 963.3,771.4 970.0,771.1 976.6,770.1 981.6,770.4 988.3,773.4 995.0,771.8 1001.0,769.8 1008.3,760.1 1016.0,752.1 1019.3,749.1 1024.3,752.5 1031.0,753.1 1038.6,744.8 1045.3,743.1 1051.0,748.1 1057.6,746.5 1064.3,741.5 1069.9,738.1 1075.9,740.5 1082.6,742.8 1089.2,745.8 1095.9,747.5 1105.9,751.1 1114.2,750.8 1122.5,753.1 1130.8,756.5 1140.2,761.1 1146.5,753.1 1152.5,748.8 1159.1,752.1 1164.8,753.8 1172.5,744.8 1178.5,740.1 1183.4,740.5 1191.4,731.8 1196.8,735.5 1203.4,744.5 1209.7,745.5 1215.7,748.5 1222.4,750.1 1230.7,750.1 1239.0,749.1 1247.4,750.1 1253.4,752.1 1260.0,751.1 1267.3,757.1 1274.0,754.5 1280.6,754.8 1286.3,758.5 1292.3,776.4 1299.0,793.7 1304.9,799.1 1312.3,788.1 1318.9,778.1 1327.3,770.8 1335.6,764.4 1342.2,760.8 1348.9,753.8 1355.5,747.5 1362.2,747.5 1368.9,748.8 1378.8,748.8 1387.2,749.1 1392.8,750.5" fill="none" stroke="#2962ff" stroke-width="1.05" stroke-linejoin="round" stroke-linecap="round" />
<!-- translucent legend backgrounds -->
<rect x="8" y="34" width="162" height="26" fill="#fff" fill-opacity="0.55"/>
<rect x="10" y="63" width="560" height="22" fill="#fff" fill-opacity="0.45"/>
<rect x="10" y="697" width="112" height="20" fill="#fff" fill-opacity="0.6"/>
<rect x="10" y="735" width="146" height="20" fill="#fff" fill-opacity="0.6"/>
<!-- axes -->
<path d="M1460.5,3V832" stroke="#4a4d52" stroke-width="1.2" fill="none"/>
<path d="M3,804.4H1520" stroke="#4a4d52" stroke-width="1.2" fill="none"/>
<!-- flags -->
<g>
<circle cx="24.2" cy="16" r="6" fill="#edf0fa"/>
<circle cx="24.5" cy="15.8" r="2.8" fill="#f0475a"/>
<circle cx="18" cy="22" r="7.7" fill="#fff"/>
<clipPath id="usf"><circle cx="18" cy="22" r="6.1"/></clipPath>
<g clip-path="url(#usf)">
<rect x="11" y="15" width="14" height="14" fill="#fff"/>
<rect x="11" y="15.9" width="14" height="3" fill="#ef4444"/>
<rect x="11" y="20.9" width="14" height="1.9" fill="#ef4444"/>
<rect x="11" y="24.8" width="14" height="4" fill="#ef4444"/>
<rect x="11" y="15.9" width="7.9" height="7" fill="#1e88e5"/>
<g fill="#fff"><circle cx="13.5" cy="19.5" r=".45"/><circle cx="15.5" cy="19.5" r=".45"/><circle cx="17.5" cy="19.5" r=".45"/><circle cx="13.5" cy="21.5" r=".45"/><circle cx="15.5" cy="21.5" r=".45"/><circle cx="17.5" cy="21.5" r=".45"/><circle cx="15.5" cy="17.5" r=".45"/><circle cx="17.5" cy="17.5" r=".45"/></g>
</g>
</g>
<!-- title -->
<g font-size="16" fill="#56595e">
<text x="34.2" y="25" textLength="161" lengthAdjust="spacingAndGlyphs">U.S. Dollar / Japanese</text>
<text x="199.5" y="25" textLength="24.8" lengthAdjust="spacingAndGlyphs">Yen</text>
<text x="228.3" y="25">·</text>
<text x="236.6" y="25" textLength="17.6" lengthAdjust="spacingAndGlyphs">1D</text>
<text x="258.8" y="25">·</text>
<text x="266.8" y="25" textLength="98.8" lengthAdjust="spacingAndGlyphs">PEPPERSTONE</text>
</g>
<circle cx="390" cy="19" r="8.6" fill="#d5eee9"/>
<circle cx="390" cy="19" r="4" fill="#089981"/>
<g font-size="12.5">
<text x="415" y="23.8" fill="#5a5d63">O</text>
<text x="425.8" y="23.8" fill="#3a7355" textLength="44.1" lengthAdjust="spacing">151.254</text>
<text x="477" y="23.8" fill="#5a5d63">H</text>
<text x="486.5" y="23.8" fill="#3a7355" textLength="44.3" lengthAdjust="spacing">151.545</text>
<text x="537.7" y="23.8" fill="#5a5d63">L</text>
<text x="544.9" y="23.8" fill="#3a7355" textLength="44.8" lengthAdjust="spacing">151.237</text>
<text x="597.1" y="23.8" fill="#5a5d63">C</text>
<text x="605.6" y="23.8" fill="#3a7355" textLength="44.8" lengthAdjust="spacing">151.378</text>
<text x="657.3" y="23.8" fill="#3a7355" textLength="91.2" lengthAdjust="spacing">+0.058 (+0.04%)</text>
</g>
<!-- bid/ask -->
<rect x="11.7" y="35.8" width="59.6" height="22.4" rx="4" fill="#fff" stroke="#f23645" stroke-width="1"/>
<text x="19.6" y="51.8" font-size="12.3" fill="#f23645" textLength="37.8" lengthAdjust="spacing">151.37</text>
<text x="58.4" y="49.3" font-size="10.3" fill="#f23645">9</text>
<text x="79.8" y="50.9" font-size="11" fill="#33363c" textLength="15" lengthAdjust="spacing">0.3</text>
<rect x="103.4" y="35.8" width="60" height="22.4" rx="4" fill="#fff" stroke="#2962ff" stroke-width="1"/>
<text x="112.9" y="51.8" font-size="12.3" fill="#2962ff" textLength="36.8" lengthAdjust="spacing">151.38</text>
<text x="150.7" y="49.3" font-size="10.3" fill="#2962ff">2</text>
<!-- legend -->
<text x="12" y="79.8" font-size="12" fill="#55585e" textLength="382.8" lengthAdjust="spacing">MA Ribbon SMA close 20 SMA close 50 SMA close 100 SMA close 200</text>
<text x="404.6" y="79.8" font-size="12.5" fill="#f23645" textLength="44" lengthAdjust="spacingAndGlyphs">149.738</text>
<text x="455.8" y="79.8" font-size="12.5" fill="#2962ff" textLength="44.2" lengthAdjust="spacingAndGlyphs">149.338</text>
<text x="507.8" y="79.6" font-size="11.5" fill="#33363c" textLength="6.4" lengthAdjust="spacingAndGlyphs">Ø</text>
<text x="521.6" y="79.8" font-size="12.5" fill="#1a1c20" textLength="44.4" lengthAdjust="spacingAndGlyphs">146.847</text>
<!-- collapse button -->
<rect x="12.3" y="89.4" width="28.3" height="20.4" rx="3.5" fill="#fff" stroke="#e0e3eb" stroke-width="1"/>
<polyline points="22.4,101.8 26.9,97.3 31.4,101.8" fill="none" stroke="#1e2025" stroke-width="1.5"/>
<!-- JPY -->
<rect x="1464.4" y="7.4" width="51.4" height="25" rx="4" fill="#fff" stroke="#e0e3eb" stroke-width="1"/>
<text x="1468" y="24" font-size="12.5" fill="#25282f" textLength="19.6" lengthAdjust="spacingAndGlyphs">JPY</text>
<polyline points="1505.8,19.1 1508.5,21.8 1511.2,19.1" fill="none" stroke="#1e2025" stroke-width="1.2"/>
<!-- price labels -->
<g font-size="12.4" fill="#55575b">
<text x="1468.6" y="91.6" textLength="41.3" lengthAdjust="spacingAndGlyphs">151.000</text>
<text x="1468.6" y="132.0" textLength="41.3" lengthAdjust="spacingAndGlyphs">150.000</text>
<text x="1468.6" y="172.4" textLength="41.3" lengthAdjust="spacingAndGlyphs">149.000</text>
<text x="1468.6" y="212.8" textLength="41.3" lengthAdjust="spacingAndGlyphs">148.000</text>
<text x="1468.6" y="253.2" textLength="41.3" lengthAdjust="spacingAndGlyphs">147.000</text>
<text x="1468.6" y="293.6" textLength="41.3" lengthAdjust="spacingAndGlyphs">146.000</text>
<text x="1468.6" y="334.0" textLength="41.3" lengthAdjust="spacingAndGlyphs">145.000</text>
<text x="1468.6" y="374.4" textLength="41.3" lengthAdjust="spacingAndGlyphs">144.000</text>
<text x="1468.6" y="414.8" textLength="41.3" lengthAdjust="spacingAndGlyphs">143.000</text>
<text x="1468.6" y="455.2" textLength="41.3" lengthAdjust="spacingAndGlyphs">142.000</text>
<text x="1468.6" y="495.6" textLength="41.3" lengthAdjust="spacingAndGlyphs">141.000</text>
<text x="1468.6" y="536.0" textLength="41.3" lengthAdjust="spacingAndGlyphs">140.000</text>
<text x="1468.6" y="576.4" textLength="41.3" lengthAdjust="spacingAndGlyphs">139.000</text>
<text x="1468.6" y="616.8" textLength="41.3" lengthAdjust="spacingAndGlyphs">138.000</text>
<text x="1468.6" y="657.2" textLength="41.3" lengthAdjust="spacingAndGlyphs">137.000</text>
<text x="1468.6" y="720.4" textLength="28.3" lengthAdjust="spacingAndGlyphs">1.000</text>
<text x="1468.6" y="765.4" textLength="21.7" lengthAdjust="spacingAndGlyphs">0.00</text>
</g>
<!-- black level labels -->
<rect x="1460" y="42.0" width="56" height="17" rx="2" fill="#000"/>
<text x="1468.6" y="54.7" font-size="12.4" font-weight="bold" fill="#fff" textLength="41.6" lengthAdjust="spacingAndGlyphs">151.916</text>
<rect x="1460" y="319.3" width="56" height="17" rx="2" fill="#000"/>
<text x="1468.6" y="332.0" font-size="12.4" font-weight="bold" fill="#fff" textLength="41.6" lengthAdjust="spacingAndGlyphs">145.054</text>
<rect x="1460" y="511.2" width="56" height="17" rx="2" fill="#000"/>
<text x="1468.6" y="523.9" font-size="12.4" font-weight="bold" fill="#fff" textLength="41.6" lengthAdjust="spacingAndGlyphs">140.286</text>
<rect x="1460" y="635.0" width="56" height="17" rx="2" fill="#000"/>
<text x="1468.6" y="647.7" font-size="12.4" font-weight="bold" fill="#fff" textLength="41.6" lengthAdjust="spacingAndGlyphs">137.224</text>
<!-- time labels -->
<g font-size="12.4" fill="#55575b" text-anchor="middle">
<text x="44.4" y="822.2" textLength="18.6" lengthAdjust="spacingAndGlyphs">Jun</text>
<text x="183.5" y="822.2" textLength="14.7" lengthAdjust="spacingAndGlyphs">Jul</text>
<text x="316.9" y="822.2" textLength="20.5" lengthAdjust="spacingAndGlyphs">Aug</text>
<text x="462" y="822.2" textLength="20.5" lengthAdjust="spacingAndGlyphs">Sep</text>
<text x="595.4" y="822.2" textLength="17.9" lengthAdjust="spacingAndGlyphs">Oct</text>
<text x="734.8" y="822.2" textLength="20.5" lengthAdjust="spacingAndGlyphs">Nov</text>
<text x="873.9" y="822.2" textLength="20.5" lengthAdjust="spacingAndGlyphs">Dec</text>
<text x="1000.7" y="822.2" font-weight="bold" fill="#3c3f45" textLength="25.6" lengthAdjust="spacingAndGlyphs">2024</text>
<text x="1140.2" y="822.2" textLength="19.9" lengthAdjust="spacingAndGlyphs">Feb</text>
<text x="1273" y="822.2" textLength="19.8" lengthAdjust="spacingAndGlyphs">Mar</text>
<text x="1406" y="822.2" textLength="17.9" lengthAdjust="spacingAndGlyphs">Apr</text>
</g>
<!-- indicator legends -->
<text x="12.5" y="709.8" font-size="12" fill="#55585e" textLength="66.7" lengthAdjust="spacing">ATR 14 RMA</text>
<text x="88" y="709.8" font-size="12" fill="#b22833" textLength="29.9" lengthAdjust="spacing">0.931</text>
<text x="12.5" y="748.7" font-size="12" fill="#55585e" textLength="101" lengthAdjust="spacing">CCI 20 hlc3 SMA 5</text>
<text x="122.3" y="748.7" font-size="12" fill="#2962ff" textLength="30.1" lengthAdjust="spacing">81.61</text>
<!-- TV logo -->
<g transform="translate(15,771.9) scale(0.825)" fill="#131722">
<path d="M14 22H7V11H0V4h14v18zM28 22h-8l7.5-18h8L28 22z"/><circle cx="20" cy="8" r="4"/>
</g>
<!-- settings hex -->
<polygon points="1483,818.4 1486.5,812.2 1494.4,812.2 1497.9,818.4 1494.4,824.6 1486.5,824.6" fill="none" stroke="#131722" stroke-width="1.2"/>
<circle cx="1490.4" cy="818.4" r="2.2" fill="none" stroke="#131722" stroke-width="1.2"/>
<!-- watermark -->
<defs><mask id="wmm" maskUnits="userSpaceOnUse" x="1200" y="700" width="330" height="140"><rect x="1200" y="700" width="330" height="140" fill="#fff"/>
<g font-family='"Noto Sans CJK SC","Liberation Sans",sans-serif' font-weight="900" font-size="58" fill="#000" >
<text transform="translate(1273.5,791) skewX(-14) scale(1.12,1)">拓</text>
<text transform="translate(1335.0,791) skewX(-14) scale(1.12,1)">与</text>
<text transform="translate(1396.5,791) skewX(-14) scale(1.12,1)">财</text>
<text transform="translate(1458.0,791) skewX(-14) scale(1.12,1)">经</text>
</g>
</mask></defs>
<g mask="url(#wmm)">
<g font-family='"Noto Sans CJK SC","Liberation Sans",sans-serif' font-weight="900" font-size="58" fill="#222" fill-opacity="0.55" style="filter:blur(1.1px)">
<text transform="translate(1276.1,793.6) skewX(-14) scale(1.12,1)">拓</text>
<text transform="translate(1337.6,793.6) skewX(-14) scale(1.12,1)">与</text>
<text transform="translate(1399.1,793.6) skewX(-14) scale(1.12,1)">财</text>
<text transform="translate(1460.6,793.6) skewX(-14) scale(1.12,1)">经</text>
</g>
</g>
<g font-family='"Noto Sans CJK SC","Liberation Sans",sans-serif' font-weight="900" font-size="58" fill="#fff" fill-opacity="0.8">
<text transform="translate(1273.5,791) skewX(-14) scale(1.12,1)">拓</text>
<text transform="translate(1335.0,791) skewX(-14) scale(1.12,1)">与</text>
<text transform="translate(1396.5,791) skewX(-14) scale(1.12,1)">财</text>
<text transform="translate(1458.0,791) skewX(-14) scale(1.12,1)">经</text>
</g>
<g opacity="0.78">
<text transform="translate(1291.06,829.7) scale(0.914,1)" font-family='"DejaVu Sans","Liberation Sans",sans-serif' font-size="31" font-weight="bold" font-style="italic" fill="#6274b8" stroke="#6274b8" stroke-width="1.7" stroke-linejoin="round">z</text>
<text transform="translate(1317.71,829.7) scale(0.944,1)" font-family='"DejaVu Sans","Liberation Sans",sans-serif' font-size="31" font-weight="bold" font-style="italic" fill="#6274b8" stroke="#6274b8" stroke-width="1.7" stroke-linejoin="round">z</text>
<text transform="translate(1344.89,829.7) scale(0.854,1)" font-family='"DejaVu Sans","Liberation Sans",sans-serif' font-size="31" font-weight="bold" font-style="italic" fill="#6274b8" stroke="#6274b8" stroke-width="1.7" stroke-linejoin="round">r</text>
<text transform="translate(1368.78,829.7) scale(0.764,1)" font-family='"DejaVu Sans","Liberation Sans",sans-serif' font-size="31" font-weight="bold" font-style="italic" fill="#6274b8" stroke="#6274b8" stroke-width="1.7" stroke-linejoin="round">t</text>
<text transform="translate(1389.17,829.7) scale(0.947,1)" font-family='"DejaVu Sans","Liberation Sans",sans-serif' font-size="31" font-weight="bold" font-style="italic" fill="#6274b8" stroke="#6274b8" stroke-width="1.7" stroke-linejoin="round">0</text>
<text transform="translate(1423.65,829.7) scale(0.801,1)" font-family='"Liberation Sans",sans-serif' font-size="30.7" font-weight="bold" font-style="italic" fill="#6274b8" stroke="#6274b8" stroke-width="1.7" stroke-linejoin="round">1</text>
<text transform="translate(1446.39,829.7) scale(1.048,1)" font-family='"DejaVu Sans","Liberation Sans",sans-serif' font-size="31" font-weight="bold" font-style="italic" fill="#6274b8" stroke="#6274b8" stroke-width="1.7" stroke-linejoin="round">.</text>
<text transform="translate(1467.22,829.7) scale(0.887,1)" font-family='"DejaVu Sans","Liberation Sans",sans-serif' font-size="31" font-weight="bold" font-style="italic" fill="#6274b8" stroke="#6274b8" stroke-width="1.7" stroke-linejoin="round">c</text>
<text transform="translate(1492.11,829.7) scale(0.965,1)" font-family='"DejaVu Sans","Liberation Sans",sans-serif' font-size="31" font-weight="bold" font-style="italic" fill="#6274b8" stroke="#6274b8" stroke-width="1.7" stroke-linejoin="round">n</text>
<text transform="translate(1289.56,828.0) scale(0.914,1)" font-family='"DejaVu Sans","Liberation Sans",sans-serif' font-size="31" font-weight="bold" font-style="italic" fill="#68bcff" stroke="#68bcff" stroke-width="1.7" stroke-linejoin="round">z</text>
<text transform="translate(1316.21,828.0) scale(0.944,1)" font-family='"DejaVu Sans","Liberation Sans",sans-serif' font-size="31" font-weight="bold" font-style="italic" fill="#68bcff" stroke="#68bcff" stroke-width="1.7" stroke-linejoin="round">z</text>
<text transform="translate(1343.39,828.0) scale(0.854,1)" font-family='"DejaVu Sans","Liberation Sans",sans-serif' font-size="31" font-weight="bold" font-style="italic" fill="#68bcff" stroke="#68bcff" stroke-width="1.7" stroke-linejoin="round">r</text>
<text transform="translate(1367.28,828.0) scale(0.764,1)" font-family='"DejaVu Sans","Liberation Sans",sans-serif' font-size="31" font-weight="bold" font-style="italic" fill="#68bcff" stroke="#68bcff" stroke-width="1.7" stroke-linejoin="round">t</text>
<text transform="translate(1387.67,828.0) scale(0.947,1)" font-family='"DejaVu Sans","Liberation Sans",sans-serif' font-size="31" font-weight="bold" font-style="italic" fill="#68bcff" stroke="#68bcff" stroke-width="1.7" stroke-linejoin="round">0</text>
<text transform="translate(1422.15,828.0) scale(0.801,1)" font-family='"Liberation Sans",sans-serif' font-size="30.7" font-weight="bold" font-style="italic" fill="#68bcff" stroke="#68bcff" stroke-width="1.7" stroke-linejoin="round">1</text>
<text transform="translate(1444.89,828.0) scale(1.048,1)" font-family='"DejaVu Sans","Liberation Sans",sans-serif' font-size="31" font-weight="bold" font-style="italic" fill="#68bcff" stroke="#68bcff" stroke-width="1.7" stroke-linejoin="round">.</text>
<text transform="translate(1465.72,828.0) scale(0.887,1)" font-family='"DejaVu Sans","Liberation Sans",sans-serif' font-size="31" font-weight="bold" font-style="italic" fill="#68bcff" stroke="#68bcff" stroke-width="1.7" stroke-linejoin="round">c</text>
<text transform="translate(1490.61,828.0) scale(0.965,1)" font-family='"DejaVu Sans","Liberation Sans",sans-serif' font-size="31" font-weight="bold" font-style="italic" fill="#68bcff" stroke="#68bcff" stroke-width="1.7" stroke-linejoin="round">n</text>
</g>

</svg>
</body></html>
